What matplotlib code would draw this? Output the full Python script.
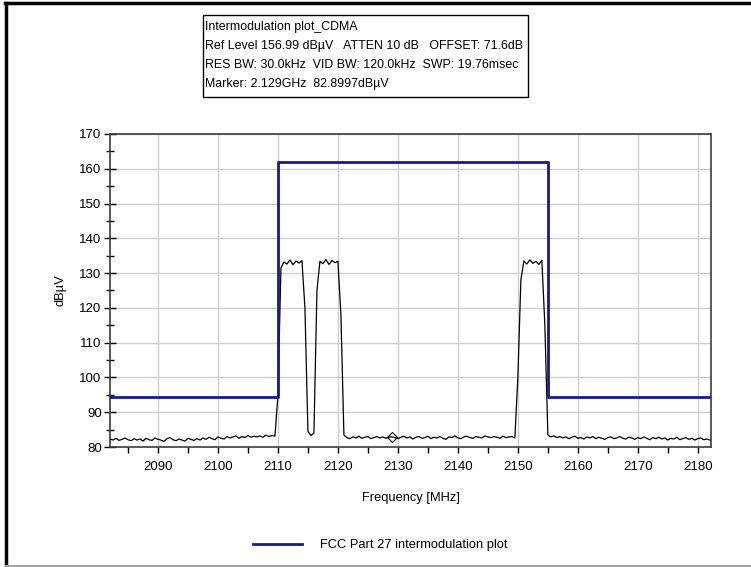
import numpy as np
import matplotlib
matplotlib.use("Agg")
from matplotlib import pyplot as plt
from matplotlib.lines import Line2D
from matplotlib.patches import Rectangle
from matplotlib.ticker import MultipleLocator

plt.rcParams['font.family'] = ['Liberation Sans', 'DejaVu Sans']

# spectrum trace, one reading every 0.5 MHz starting at 2082 MHz
trace_start_mhz = 2082.0
trace_step_mhz = 0.5
trace_dbuv = [
    # 2082 - 2109.5 noise floor
    82.3, 82.0, 82.5, 81.9, 82.2, 82.6, 82.1, 81.8, 82.4, 82.0,
    82.3, 81.7, 82.5, 82.1, 81.9, 82.6, 82.2, 82.0, 81.6, 82.4,
    82.7, 82.1, 81.8, 82.3, 82.0, 81.7, 82.5, 82.2, 81.9, 82.4,
    82.0, 82.6, 82.2, 82.8, 82.4, 82.1, 82.9, 82.5, 82.3, 83.0,
    82.6, 82.9, 83.2, 82.5, 83.0, 82.7, 83.3, 82.8, 83.1, 82.9,
    83.2, 82.8, 83.4, 83.0, 83.3, 83.1,
    # 2110 - 2121 first two carriers
    95.0, 131.5, 133.2, 132.6, 133.8, 132.4, 133.5, 132.9, 133.6, 120.0,
    84.5, 83.3, 84.0, 125.0, 133.4, 132.7, 133.9, 132.5, 133.6, 133.0,
    133.4, 118.0, 83.4,
    # 2121.5 - 2149.5 noise floor
    82.7, 82.4, 82.9, 82.6, 83.1, 82.5, 82.8, 83.0, 82.4, 82.7,
    83.0, 82.6, 82.9, 82.5, 82.9, 82.9, 82.7, 82.4, 82.8, 83.1,
    82.6, 82.9, 82.3, 82.8, 83.0, 82.5, 82.7, 83.1, 82.4, 82.8,
    82.6, 83.0, 82.5, 82.2, 82.9, 82.7, 83.2, 82.6, 82.4, 82.9,
    83.1, 82.7, 82.5, 83.0, 82.8, 82.6, 83.2, 82.9, 82.7, 83.0,
    82.8, 82.5, 83.1, 82.7, 82.9, 83.0, 82.6,
    # 2150 - 2155 third carrier
    100.0, 128.0, 133.5, 132.6, 133.8, 132.8, 133.4, 132.5, 133.7, 115.0,
    83.5,
    # 2155.5 - 2182 noise floor
    82.9, 83.2, 82.7, 83.0, 82.6, 82.9, 82.4, 82.8, 83.1, 82.5,
    82.7, 82.3, 82.9, 82.6, 83.0, 82.4, 82.8, 82.5, 82.2, 82.7,
    82.9, 82.4, 82.6, 83.0, 82.5, 82.3, 82.8, 82.6, 82.2, 82.7,
    82.4, 82.9, 82.5, 82.1, 82.7, 82.4, 82.8, 82.3, 82.6, 82.0,
    82.5, 82.3, 82.8, 82.1, 82.4, 82.7, 82.2, 82.5, 82.0, 82.4,
    82.6, 82.1, 82.3, 82.0,
]

limit_freq = [2082, 2110, 2110, 2155, 2155, 2182.2]
limit_level = [94.5, 94.5, 162, 162, 94.5, 94.5]
limit_label = "FCC Part 27 intermodulation plot"

marker_freq = 2129.0
marker_level = 82.8997

info_lines = [
    "Intermodulation plot_CDMA",
    "Ref Level 156.99 dB\u00b5V   ATTEN 10 dB   OFFSET: 71.6dB",
    "RES BW: 30.0kHz  VID BW: 120.0kHz  SWP: 19.76msec",
    "Marker: 2.129GHz  82.8997dB\u00b5V",
]

blue = "#16169e"

fig = plt.figure(figsize=(7.51, 5.67), dpi=100)
ax = fig.add_axes([110 / 751, 1 - 447 / 567, 601 / 751, 313 / 567])

freq = trace_start_mhz + trace_step_mhz * np.arange(len(trace_dbuv))
ax.plot(freq, trace_dbuv, color="black", lw=0.9, zorder=3)
ax.plot(limit_freq, limit_level, color=blue, lw=2.0, zorder=4, label=limit_label)
ax.plot([marker_freq], [marker_level], marker="D", ms=5, mfc="none", mec="black",
        mew=0.8, zorder=5)

ax.set_xlim(2082, 2182.2)
ax.set_ylim(80, 170)
ax.xaxis.set_major_locator(MultipleLocator(10))
ax.xaxis.set_minor_locator(MultipleLocator(5))
ax.yaxis.set_major_locator(MultipleLocator(10))
ax.yaxis.set_minor_locator(MultipleLocator(5))
ax.grid(True, which="major", color="#cfcfcf", lw=1.0)
ax.set_axisbelow(True)

ax.tick_params(axis="x", which="both", direction="out", length=4, width=1,
               labelsize=9.5, pad=6)
ax.tick_params(axis="y", which="major", direction="inout", length=8, width=1,
               labelsize=9.5, pad=2)
ax.tick_params(axis="y", which="minor", direction="inout", length=6, width=1)
for sp in ax.spines.values():
    sp.set_color("#3c3c3c")
    sp.set_linewidth(1.2)

ax.set_xlabel("Frequency [MHz]", fontsize=9.3)
ax.set_ylabel("dB\u00b5V", fontsize=9.3)
ax.xaxis.set_label_coords(0.5, -0.144)
ax.yaxis.set_label_coords(-0.073, 0.5)

# info box above the plot
fig.add_artist(Rectangle((203 / 751, 1 - 97 / 567), 325 / 751, 82 / 567,
                         transform=fig.transFigure, fill=False, ec="black", lw=1))
for k, line in enumerate(info_lines):
    fig.text(205 / 751, 1 - (27 + 19 * k) / 567, line, fontsize=8.9, va="center",
             ha="left")

fig.legend(loc="center", bbox_to_anchor=(0.506, 1 - 545 / 567), frameon=False,
           fontsize=9.3, handlelength=3.8, handletextpad=1.4)

# window frame
fig.add_artist(Line2D([5 / 751, 1], [1 - 3 / 567, 1 - 3 / 567],
                      transform=fig.transFigure, color="black", lw=2.5))
fig.add_artist(Line2D([6 / 751, 6 / 751], [0, 1 - 3 / 567],
                      transform=fig.transFigure, color="black", lw=2.5))
fig.add_artist(Line2D([6 / 751, 1], [1.5 / 567, 1.5 / 567],
                      transform=fig.transFigure, color="#a0a0a0", lw=1.5))

fig.savefig("out.png", dpi=100)
